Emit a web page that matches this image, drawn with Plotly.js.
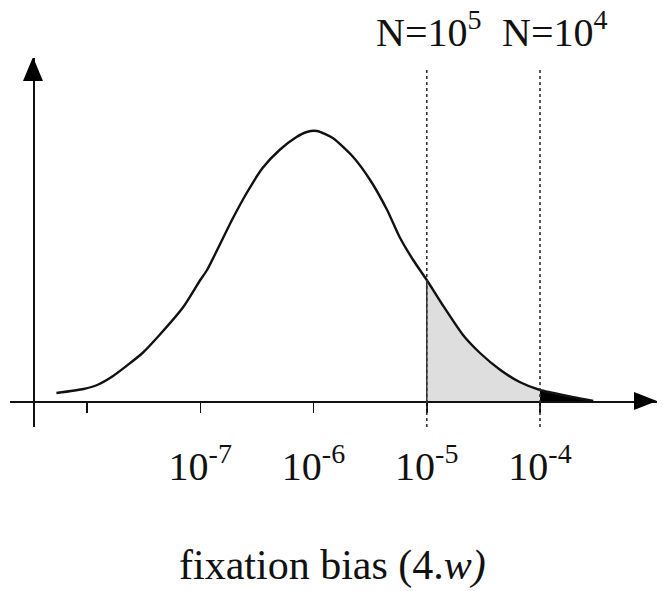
<!DOCTYPE html>
<html>
<head>
<meta charset="utf-8">
<script src="https://cdn.plot.ly/plotly-3.0.1.min.js"></script>
<style>html,body{margin:0;padding:0;background:#fff;}#chart{width:663px;height:591px;}</style>
</head>
<body>
<div id="chart"></div>
<script>
const logBias = [-8.27, -8.03, -7.91, -7.77, -7.51, -7.36, -7.15, -7.00, -6.94, -6.72, -6.59, -6.45, -6.30, -6.15, -6.06, -5.97, -5.83, -5.65, -5.50, -5.35, -5.24, -5.12, -5.00, -4.86, -4.68, -4.53, -4.35, -4.18, -4.00, -3.76, -3.53];
const density = [8, 12, 16, 25, 48, 66, 94, 121, 131, 181, 208, 233, 251, 264, 269, 270, 263, 244, 221, 191, 164, 141, 121, 96, 66, 48, 31, 19, 11, 5, 0];

const tickVals = [-8, -7, -6, -5, -4];
const tickText = ['', '10<sup>-7</sup>', '10<sup>-6</sup>', '10<sup>-5</sup>', '10<sup>-4</sup>'];

const thresholdLog = [-5, -4];
const thresholdText = ['N=10<sup>5</sup>', 'N=10<sup>4</sup>'];

const xTitle = 'fixation bias (4.<i>w)</i>';

const serif = 'Liberation Serif, Times New Roman, serif';

// shaded regions derived from the curve arrays
const grayX = [], grayY = [], blackX = [], blackY = [];
logBias.forEach((x, i) => {
  if (x >= thresholdLog[0] && x <= thresholdLog[1]) { grayX.push(x); grayY.push(density[i]); }
  if (x >= thresholdLog[1]) { blackX.push(x); blackY.push(density[i]); }
});
const densAt5 = density[logBias.indexOf(thresholdLog[0])];

const traces = [
  {x: grayX, y: grayY, type: 'scatter', mode: 'lines', fill: 'tozeroy',
   fillcolor: '#dedede', line: {width: 0, shape: 'spline', smoothing: 0.6}, hoverinfo: 'skip'},
  {x: blackX, y: blackY, type: 'scatter', mode: 'lines', fill: 'tozeroy',
   fillcolor: '#000', line: {width: 0, shape: 'spline', smoothing: 0.6}, hoverinfo: 'skip'},
  {x: logBias, y: density, type: 'scatter', mode: 'lines',
   line: {color: '#111', width: 2.4, shape: 'spline', smoothing: 0.6}}
];

const shapes = [];
thresholdLog.forEach(v => {
  shapes.push({type: 'line', xref: 'x', yref: 'y', x0: v, x1: v, y0: -26, y1: 333,
    line: {color: '#333', width: 1.6, dash: 'dot'}});
});
shapes.push({type: 'line', xref: 'x', yref: 'y', x0: thresholdLog[0], x1: thresholdLog[0], y0: 0, y1: densAt5,
  line: {color: '#333', width: 1.5}});
// axis arrowheads
shapes.push({type: 'path', xref: 'x', yref: 'y', path: 'M -8.565 320 L -8.477 344 L -8.389 320 Z',
  fillcolor: '#000', line: {width: 0}});
shapes.push({type: 'path', xref: 'x', yref: 'y', path: 'M -3.170 9 L -2.967 0 L -3.170 -9 Z',
  fillcolor: '#000', line: {width: 0}});

const annotations = thresholdLog.map((v, i) => ({
  x: v, y: 1, xref: 'x', yref: 'paper', yanchor: 'bottom', yshift: 1,
  xshift: i === 1 ? 14 : 2,
  text: thresholdText[i], showarrow: false,
  font: {family: serif, size: 40, color: '#111'}
}));
annotations.push({
  x: 0.4977, y: -0.305, xref: 'paper', yref: 'paper', yanchor: 'top',
  text: xTitle, showarrow: false,
  font: {family: serif, size: 42, color: '#111'}
});

const layout = {
  width: 663, height: 591,
  margin: {l: 10, r: 6, t: 58, b: 164},
  paper_bgcolor: '#fff', plot_bgcolor: '#fff',
  showlegend: false,
  xaxis: {
    type: 'linear', range: [-8.680, -2.967], anchor: 'free', position: 0.07046,
    showline: true, linecolor: '#111', linewidth: 1.5,
    showgrid: false, zeroline: false,
    ticks: 'outside', ticklen: 10, tickwidth: 1.5, tickcolor: '#111',
    tickmode: 'array', tickvals: tickVals, ticktext: tickText,
    ticklabelstandoff: 19,
    tickfont: {family: serif, size: 40, color: '#111'}
  },
  yaxis: {
    range: [-26, 343], anchor: 'free', position: 0.03555,
    showline: true, linecolor: '#111', linewidth: 1.5,
    showgrid: false, zeroline: false, showticklabels: false, ticks: ''
  },
  shapes: shapes,
  annotations: annotations
};

Plotly.newPlot('chart', traces, layout, {displayModeBar: false, staticPlot: true});
</script>
</body>
</html>
